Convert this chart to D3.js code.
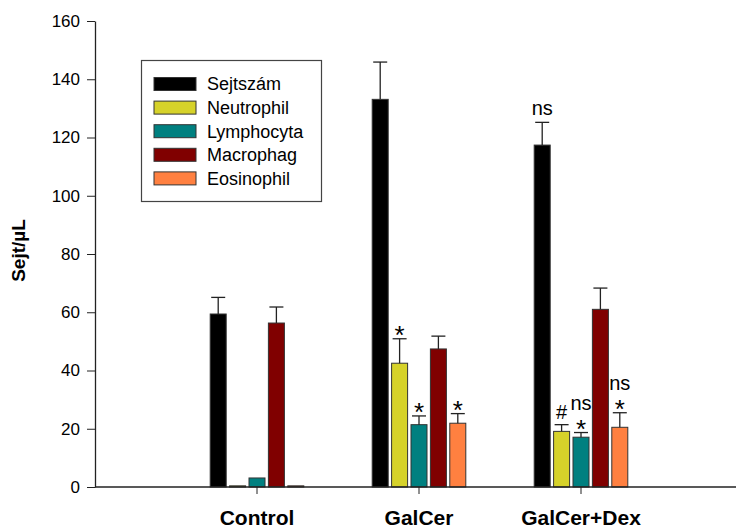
<!DOCTYPE html>
<html><head><meta charset="utf-8">
<script src="https://cdn.jsdelivr.net/npm/d3@7"></script>
<style>body{margin:0;background:#fff}svg{display:block;font-family:Arial,"Liberation Sans",sans-serif}</style>
</head><body><svg id="c" width="736" height="529"></svg>
<script>
const groups = ["Control", "GalCer", "GalCer+Dex"];
const series = ["Sejtszám", "Neutrophil", "Lymphocyta", "Macrophag", "Eosinophil"];
const colors = ["#000000", "#d6d22a", "#008080", "#800000", "#ff8040"];
// values[series][group]
const sejtszam   = [59.4, 133.1, 117.4];
const neutrophil = [0.4, 42.5, 19.1];
const lymphocyta = [3.1, 21.4, 17.1];
const macrophag  = [56.3, 47.4, 61.0];
const eosinophil = [0.4, 21.9, 20.5];
// upper error (value + error)
const sejtszamErr   = [65.1, 145.9, 125.2];
const neutrophilErr = [0.4, 50.9, 21.4];
const lymphocytaErr = [3.3, 24.4, 18.7];
const macrophagErr  = [61.8, 51.8, 68.3];
const eosinophilErr = [0.4, 25.2, 25.5];
const yTicks = [0, 20, 40, 60, 80, 100, 120, 140, 160];
// significance marks: [group, series, labels bottom-to-top]
const marks = [
  ["GalCer", "Neutrophil", ["*"]],
  ["GalCer", "Lymphocyta", ["*"]],
  ["GalCer", "Eosinophil", ["*"]],
  ["GalCer+Dex", "Sejtszám", ["ns"]],
  ["GalCer+Dex", "Neutrophil", ["#"]],
  ["GalCer+Dex", "Lymphocyta", ["*", "ns"]],
  ["GalCer+Dex", "Eosinophil", ["*", "ns"]]
];

const vals = [sejtszam, neutrophil, lymphocyta, macrophag, eosinophil];
const errs = [sejtszamErr, neutrophilErr, lymphocytaErr, macrophagErr, eosinophilErr];
const data = [];
series.forEach((s, si) => groups.forEach((g, gi) => data.push({g, s, si, v: vals[si][gi], e: errs[si][gi]})));

const svg = d3.select("#c");
const x0 = d3.scaleBand().domain(groups).range([176, 662]).paddingInner(0).paddingOuter(0);
const x1 = d3.scaleBand().domain(series).range([-46.8, 46.8]).paddingInner(0.175).paddingOuter(0);
const y = d3.scaleLinear().domain([0, 160]).range([487, 21]);
const cx = (g, s) => x0(g) + x0.bandwidth() / 2 + x1(s);

// bars
svg.append("g").selectAll("rect").data(data).join("rect")
  .attr("x", d => cx(d.g, d.s))
  .attr("y", d => y(d.v))
  .attr("width", x1.bandwidth())
  .attr("height", d => y(0) - y(d.v))
  .attr("fill", d => colors[d.si])
  .attr("stroke", "#333").attr("stroke-width", 1);

// error bars
const eb = svg.append("g").attr("stroke", "#222").attr("stroke-width", 1.3);
data.filter(d => d.e > d.v + 0.3).forEach(d => {
  const xm = cx(d.g, d.s) + x1.bandwidth() / 2;
  eb.append("line").attr("x1", xm).attr("x2", xm).attr("y1", y(d.v)).attr("y2", y(d.e));
  eb.append("line").attr("x1", xm - 7).attr("x2", xm + 7).attr("y1", y(d.e)).attr("y2", y(d.e));
});

// marks
const mg = svg.append("g").attr("text-anchor", "middle").attr("fill", "#000");
marks.forEach(([g, s, labels]) => {
  const si = series.indexOf(s), gi = groups.indexOf(g);
  const xm = cx(g, s) + x1.bandwidth() / 2;
  const cap = y(errs[si][gi]);
  let center = cap - 13;
  labels.forEach((t, i) => {
    let yy, fs = 20;
    if (t === "*") { center = cap - 10; fs = 26; yy = center + 0.58 * fs; }
    else if (t === "#") { yy = center + 7; }
    else { if (i > 0) center = center - 18; yy = center + 5.2; }
    mg.append("text").attr("x", xm).attr("y", yy).attr("font-size", fs).text(t);
  });
});

// y axis
const ya = svg.append("g").attr("transform", "translate(95,0)")
  .call(d3.axisLeft(y).tickValues(yTicks).tickSize(8).tickPadding(7).tickSizeOuter(0));
ya.select(".domain").attr("stroke", "#222").attr("stroke-width", 1.3);
ya.selectAll(".tick line").attr("stroke", "#222");
ya.selectAll("text").attr("font-size", 17).attr("font-family", "Arial, 'Liberation Sans', sans-serif").attr("fill", "#000");

// x axis
const xa = svg.append("g").attr("transform", "translate(0,487)");
xa.append("line").attr("x1", 95).attr("x2", 736).attr("stroke", "#222").attr("stroke-width", 1.5);
const xg = xa.append("g").call(d3.axisBottom(x0).tickSize(7).tickSizeOuter(0));
xg.select(".domain").remove();
xg.selectAll(".tick line").attr("stroke", "#222");
xg.selectAll("text").attr("font-size", 21).attr("font-weight", "bold")
  .attr("font-family", "Arial, 'Liberation Sans', sans-serif").attr("fill", "#000")
  .attr("y", 38).attr("dy", 0);

// y title
svg.append("text").attr("transform", "translate(25,250.5) rotate(-90)")
  .attr("text-anchor", "middle").attr("font-size", 19).attr("font-weight", "bold").text("Sejt/µL");

// legend
const lg = svg.append("g");
lg.append("rect").attr("x", 141.5).attr("y", 60.5).attr("width", 180).attr("height", 141)
  .attr("fill", "#fff").attr("stroke", "#444").attr("stroke-width", 1.2);
series.forEach((s, i) => {
  const yy = 84 + i * 23.6;
  lg.append("rect").attr("x", 154).attr("y", yy - 6.5).attr("width", 42).attr("height", 13)
    .attr("fill", colors[i]).attr("stroke", "#333");
  lg.append("text").attr("x", 207).attr("y", yy + 6.4).attr("font-size", 18).text(s);
});
</script></body></html>
